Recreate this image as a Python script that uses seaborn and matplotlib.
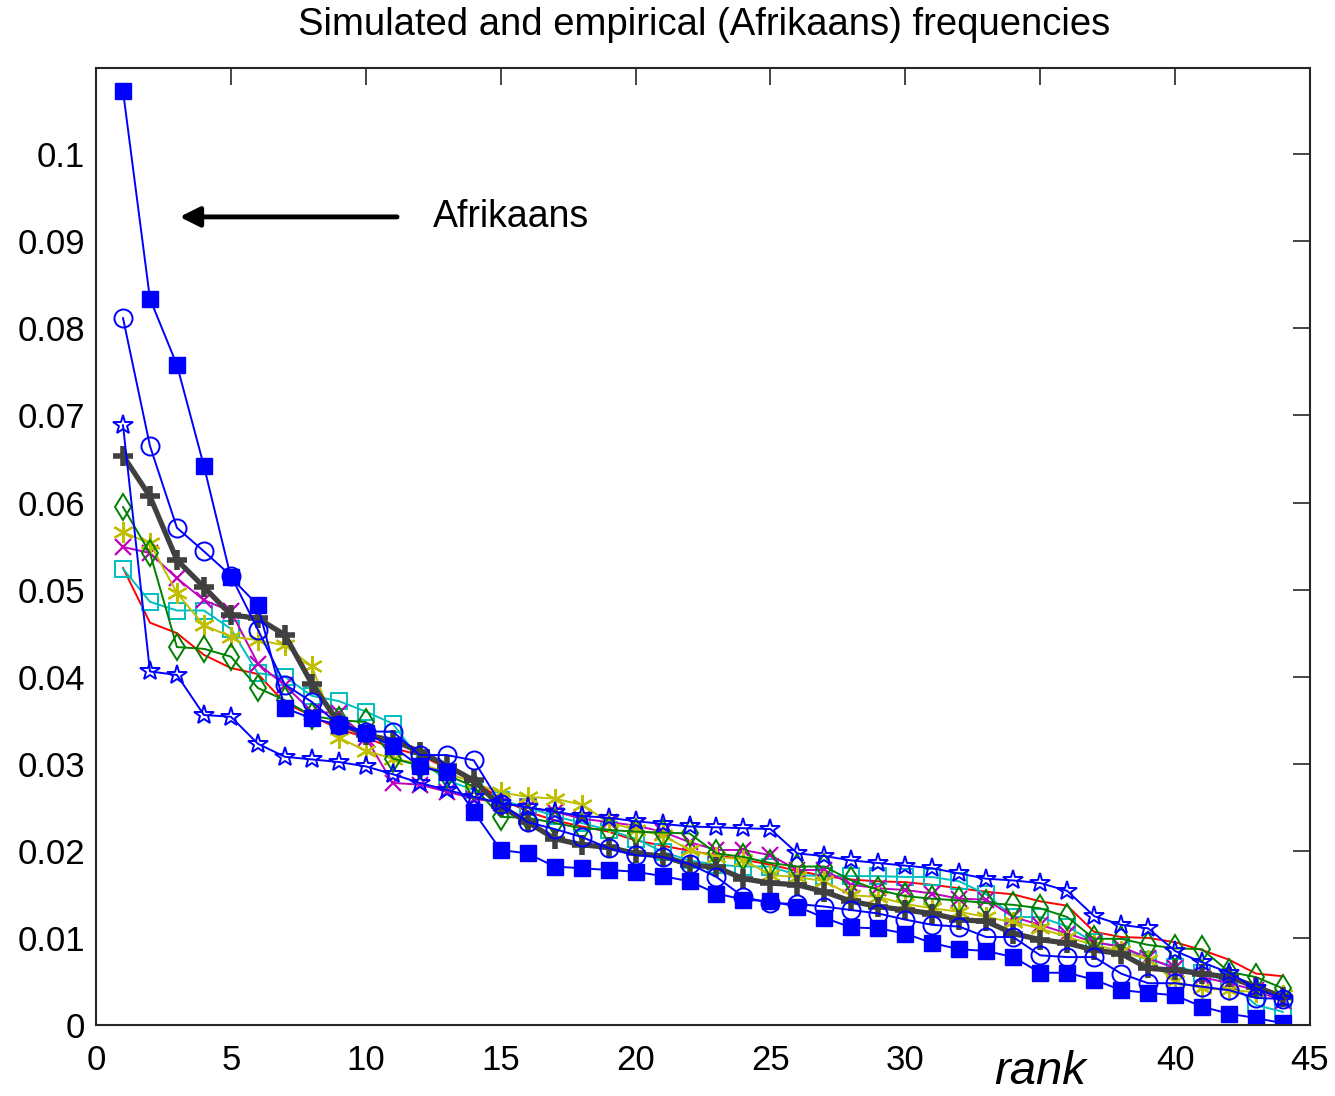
import numpy as np
import pandas as pd
import matplotlib
matplotlib.use("Agg")
import matplotlib.pyplot as plt
import seaborn as sns

ranks = list(range(1, 45))

afrikaans = [0.1073, 0.0834, 0.0758, 0.0642, 0.0514, 0.0482, 0.0364, 0.0352, 0.0345, 0.0335,
             0.0320, 0.0297, 0.0290, 0.0245, 0.0201, 0.0197, 0.0182, 0.0180, 0.0178, 0.0176,
             0.0171, 0.0165, 0.0151, 0.0144, 0.0142, 0.0136, 0.0123, 0.0112, 0.0111, 0.0105,
             0.0094, 0.0087, 0.0085, 0.0078, 0.0060, 0.0060, 0.0052, 0.0040, 0.0037, 0.0034,
             0.0021, 0.0013, 0.0008, 0.0002]

sim_circle = [0.0812, 0.0665, 0.0571, 0.0544, 0.0516, 0.0454, 0.0391, 0.0371, 0.0345, 0.0337,
              0.0337, 0.0310, 0.0310, 0.0304, 0.0254, 0.0233, 0.0225, 0.0216, 0.0203, 0.0195,
              0.0193, 0.0185, 0.0170, 0.0147, 0.0140, 0.0139, 0.0136, 0.0132, 0.0128, 0.0121,
              0.0115, 0.0113, 0.0101, 0.0101, 0.0080, 0.0078, 0.0078, 0.0059, 0.0048, 0.0048,
              0.0044, 0.0040, 0.0031, 0.0030]

sim_star = [0.0689, 0.0406, 0.0402, 0.0356, 0.0354, 0.0323, 0.0308, 0.0305, 0.0302, 0.0297,
            0.0288, 0.0278, 0.0270, 0.0262, 0.0255, 0.0250, 0.0245, 0.0240, 0.0238, 0.0234,
            0.0231, 0.0228, 0.0227, 0.0226, 0.0225, 0.0197, 0.0194, 0.0189, 0.0186, 0.0183,
            0.0180, 0.0174, 0.0168, 0.0166, 0.0163, 0.0154, 0.0125, 0.0115, 0.0111, 0.0085,
            0.0072, 0.0060, 0.0042, 0.0030]

sim_mean = [0.0654, 0.0607, 0.0534, 0.0503, 0.0471, 0.0467, 0.0448, 0.0392, 0.0347, 0.0333,
            0.0327, 0.0314, 0.0298, 0.0281, 0.0251, 0.0233, 0.0214, 0.0207, 0.0204, 0.0197,
            0.0194, 0.0184, 0.0181, 0.0168, 0.0163, 0.0161, 0.0153, 0.0142, 0.0136, 0.0132,
            0.0128, 0.0121, 0.0119, 0.0105, 0.0098, 0.0094, 0.0086, 0.0082, 0.0065, 0.0063,
            0.0059, 0.0055, 0.0044, 0.0032]

sim_diamond = [0.0595, 0.0542, 0.0434, 0.0432, 0.0423, 0.0387, 0.0373, 0.0355, 0.0350, 0.0348,
               0.0306, 0.0298, 0.0287, 0.0274, 0.0239, 0.0238, 0.0232, 0.0226, 0.0224, 0.0222,
               0.0221, 0.0220, 0.0197, 0.0193, 0.0186, 0.0182, 0.0182, 0.0166, 0.0155, 0.0148,
               0.0145, 0.0143, 0.0140, 0.0138, 0.0134, 0.0124, 0.0099, 0.0099, 0.0092, 0.0088,
               0.0087, 0.0061, 0.0055, 0.0042]

sim_asterisk = [0.0566, 0.0553, 0.0496, 0.0459, 0.0446, 0.0442, 0.0436, 0.0412, 0.0330, 0.0315,
                0.0306, 0.0300, 0.0290, 0.0278, 0.0267, 0.0262, 0.0260, 0.0253, 0.0233, 0.0224,
                0.0218, 0.0201, 0.0193, 0.0190, 0.0172, 0.0170, 0.0165, 0.0149, 0.0147, 0.0139,
                0.0134, 0.0130, 0.0124, 0.0118, 0.0111, 0.0101, 0.0092, 0.0085, 0.0075, 0.0050,
                0.0042, 0.0040, 0.0038, 0.0034]

sim_x = [0.0549, 0.0542, 0.0513, 0.0488, 0.0475, 0.0415, 0.0390, 0.0360, 0.0358, 0.0330,
         0.0278, 0.0276, 0.0268, 0.0260, 0.0255, 0.0250, 0.0245, 0.0237, 0.0233, 0.0229,
         0.0222, 0.0210, 0.0201, 0.0201, 0.0195, 0.0178, 0.0178, 0.0161, 0.0157, 0.0155,
         0.0151, 0.0145, 0.0144, 0.0124, 0.0115, 0.0105, 0.0095, 0.0090, 0.0077, 0.0065,
         0.0055, 0.0048, 0.0040, 0.0027]

sim_square = [0.0524, 0.0486, 0.0476, 0.0476, 0.0455, 0.0404, 0.0400, 0.0378, 0.0372, 0.0360,
              0.0346, 0.0305, 0.0281, 0.0270, 0.0258, 0.0250, 0.0240, 0.0232, 0.0224, 0.0214,
              0.0199, 0.0189, 0.0184, 0.0182, 0.0182, 0.0172, 0.0171, 0.0171, 0.0171, 0.0170,
              0.0170, 0.0165, 0.0150, 0.0124, 0.0124, 0.0113, 0.0095, 0.0090, 0.0075, 0.0067,
              0.0060, 0.0050, 0.0023, 0.0015]

sim_red = [0.0525, 0.0462, 0.0450, 0.0425, 0.0410, 0.0403, 0.0370, 0.0355, 0.0340, 0.0330,
           0.0318, 0.0310, 0.0295, 0.0280, 0.0260, 0.0245, 0.0235, 0.0228, 0.0222, 0.0212,
           0.0206, 0.0200, 0.0195, 0.0190, 0.0184, 0.0177, 0.0171, 0.0167, 0.0165, 0.0164,
           0.0161, 0.0157, 0.0153, 0.0150, 0.0142, 0.0137, 0.0107, 0.0101, 0.0100, 0.0095,
           0.0086, 0.0075, 0.0059, 0.0056]

x_ticks = [0, 5, 10, 15, 20, 25, 30, 35, 40, 45]
x_tick_labels = ["0", "5", "10", "15", "20", "25", "30", "", "40", "45"]
y_ticks = [0, 0.01, 0.02, 0.03, 0.04, 0.05, 0.06, 0.07, 0.08, 0.09, 0.1]
y_tick_labels = ["0", "0.01", "0.02", "0.03", "0.04", "0.05", "0.06", "0.07", "0.08", "0.09", "0.1"]

sns.set_style("white")
plt.rcParams["font.family"] = ["Liberation Sans", "DejaVu Sans"]

fig = plt.figure(figsize=(13.35, 10.96), dpi=100)
ax = fig.add_axes([96 / 1335, (1096 - 1025) / 1096, (1310 - 96) / 1335, (1025 - 68) / 1096])

asterisk = (6, 2, 0)
styles = [
    (sim_red, dict(color="#FF0000", lw=1.4, marker=None)),
    (sim_square, dict(color="#00BFBF", lw=1.4, marker="s", ms=11, mfc="none", mec="#00BFBF", mew=1.4)),
    (sim_x, dict(color="#BF00BF", lw=1.4, marker="x", ms=11, mec="#BF00BF", mew=1.6)),
    (sim_asterisk, dict(color="#BFBF00", lw=1.4, marker=asterisk, ms=15, mec="#BFBF00", mew=1.6)),
    (sim_diamond, dict(color="#008000", lw=1.4, marker="d", ms=13, mfc="none", mec="#008000", mew=1.4)),
    (sim_mean, dict(color="#404040", lw=3.8, marker="+", ms=14, mec="#404040", mew=4.0)),
    (sim_star, dict(color="#0000FF", lw=1.4, marker="*", ms=15, mfc="none", mec="#0000FF", mew=1.4)),
    (sim_circle, dict(color="#0000FF", lw=1.4, marker="o", ms=13, mfc="none", mec="#0000FF", mew=1.4)),
    (afrikaans, dict(color="#0000FF", lw=1.4, marker="s", ms=11, mfc="#0000FF", mec="#0000FF", mew=1.0)),
]

for vals, kw in styles:
    df = pd.DataFrame({"rank": ranks, "freq": vals})
    sns.lineplot(data=df, x="rank", y="freq", ax=ax, legend=False, **kw)

ax.set_xlim(0, 45)
ax.set_ylim(0, 0.1099)
ax.set_xticks(x_ticks)
ax.set_xticklabels(x_tick_labels)
ax.set_yticks(y_ticks)
ax.set_yticklabels(y_tick_labels)
ax.set_xlabel("")
ax.set_ylabel("")
ax.tick_params(direction="in", length=12, width=1.2, labelsize=25, colors="#262626",
               top=True, right=True)
ax.tick_params(axis="x", pad=14)
ax.tick_params(axis="y", pad=8)
for lab in ax.get_xticklabels() + ax.get_yticklabels():
    lab.set_color("black")
for sp in ax.spines.values():
    sp.set_color("#262626")
    sp.set_linewidth(1.5)
    sp.set_visible(True)

ax.annotate("", xy=(3.1, 0.0928), xytext=(11.16, 0.0928),
            arrowprops=dict(arrowstyle="-|>", lw=3.5, color="black", mutation_scale=30,
                            shrinkA=0, shrinkB=0))
ax.text(12.5, 0.0928, "Afrikaans", fontsize=27, ha="left", va="center", color="black")

fig.text(704 / 1335, 1 - 25 / 1096, "Simulated and empirical (Afrikaans) frequencies",
         fontsize=27.5, ha="center", va="center", color="black")
fig.text(1040 / 1335, 1 - 1072 / 1096, "rank", fontsize=34, style="italic",
         ha="center", va="center", color="black")

fig.savefig("out.png", dpi=100)
